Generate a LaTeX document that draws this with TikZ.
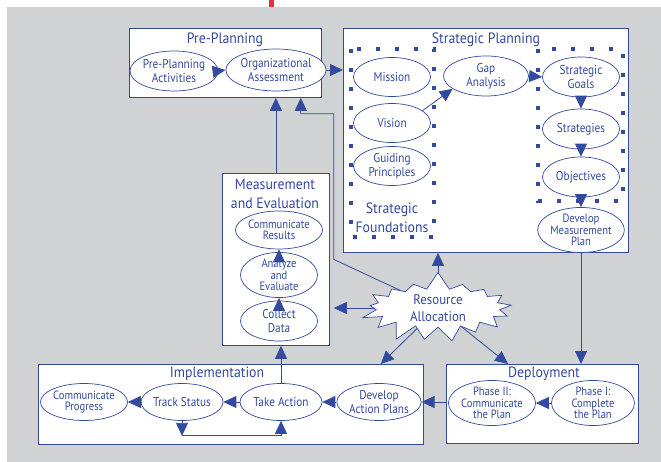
\documentclass[tikz,border=0pt]{standalone}
\usepackage{fontspec}
\setmainfont{PT Sans}
\newfontfamily\labelfont{PT Sans}[FakeStretch=0.88]
\newfontfamily\headfont{PT Sans}[FakeStretch=0.92]
\usetikzlibrary{arrows.meta, positioning, calc, shapes.geometric, shapes.symbols}
\definecolor{azulplan}{RGB}{52,74,158}
\definecolor{grisfondo}{RGB}{209,210,212}
\definecolor{rojito}{RGB}{232,52,48}
\pgfdeclarelayer{bg}
\pgfdeclarelayer{back}
\pgfsetlayers{bg,back,main}
\tikzset{>={Triangle[length=13pt,width=12pt]}}
\tikzset{
	stage/.style={draw=azulplan, fill=white, line width=0.8pt, inner sep=0pt, anchor=north west},
	task/.style={ellipse, draw=azulplan, fill=white, line width=0.7pt, inner sep=0pt, align=center, text=azulplan, font=\labelfont\fontsize{12.8}{14}\selectfont, minimum width=77pt, minimum height=39pt},
	tight/.style={font=\labelfont\fontsize{12}{11.6}\selectfont},
	title/.style={text=azulplan, align=center, font=\headfont\fontsize{15}{19}\selectfont},
	flow/.style={->, draw=azulplan, line width=0.8pt},
	dotbox/.style={draw=azulplan, line width=4pt, dash pattern=on 4pt off 15pt},
	burst/.style={starburst, starburst points=17, starburst point height=18pt, random starburst=7, draw=azulplan, fill=white, line width=0.7pt, inner sep=0pt, minimum width=160pt, minimum height=70pt, align=center, text=azulplan, font=\headfont\fontsize{14}{17}\selectfont}
}

\begin{document}
\begin{tikzpicture}[x=1pt, y=-1pt]

	\useasboundingbox (0,0) rectangle (661,462);
	\begin{pgfonlayer}{bg}
		\fill [white] (0,0) rectangle (661,462);
		\fill [grisfondo] (7,7) rectangle (661,462);
		\fill [rojito] (269,0) rectangle (274,7);
	\end{pgfonlayer}

	% boxes
	\node [stage, minimum width=192pt, minimum height=69pt] (preplan) at (129,28) {};
	\node [stage, minimum width=285pt, minimum height=224pt] (strat) at (343,28) {};
	\node [stage, minimum width=107pt, minimum height=172pt] (measure) at (222,173) {};
	\node [stage, minimum width=385pt, minimum height=80pt] (impl) at (38,364) {};
	\node [stage, minimum width=192pt, minimum height=79pt] (deploy) at (446,364) {};

	\draw [dotbox] (351,49) rectangle (434,237);
	\draw [dotbox] (538,49) rectangle (623,201);

	% titles
	\node [title] (preplantitle) at (225,40) {Pre-Planning};
	\node [title] (strattitle) at (486,40) {Strategic Planning};
	\node [title] (foundtitle) at (392,218) {Strategic\\Foundations};
	\node [title] (measuretitle) at (275,194) {Measurement\\and Evaluation};
	\node [title] (impltitle) at (217,374) {Implementation};
	\node [title] (deploytitle) at (544,374) {Deployment};

	% pre-planning
	\node [task, minimum width=84pt, minimum height=40pt] (ppact) at (174,71) {Pre-Planning\\Activities};
	\node [task, minimum width=89pt, minimum height=42pt] (orgass) at (276,70) {Organizational\\Assessment};

	% strategic planning
	\node [task] (mission) at (392,77) {Mission};
	\node [task] (vision) at (392,123) {Vision};
	\node [task] (guiding) at (392,166) {Guiding\\Principles};
	\node [task, minimum width=85pt, minimum height=40pt] (gap) at (486,76) {Gap\\Analysis};
	\node [task, minimum height=40pt] (goals) at (581,77) {Strategic\\Goals};
	\node [task, minimum height=40pt] (strategies) at (581,129) {Strategies};
	\node [task, minimum height=40pt] (objectives) at (581,177) {Objectives};
	\node [task, tight, minimum width=84pt, minimum height=37pt] (devmeas) at (581,230) {Develop\\Measurement\\Plan};

	% measurement and evaluation
	\node [task, tight, minimum height=38pt] (commres) at (279,230) {Communicate\\Results};
	\node [task, tight, minimum height=40pt] (analyze) at (279,275) {Analyze\\and\\Evaluate};
	\node [task, minimum height=40pt] (collect) at (279,321) {Collect\\Data};

	% implementation
	\node [task, tight, minimum width=84pt, minimum height=37pt] (commprog) at (84,402) {Communicate\\Progress};
	\node [task, minimum width=82pt, minimum height=37pt] (track) at (182,402) {Track Status};
	\node [task, minimum width=82pt, minimum height=37pt] (takeact) at (281,402) {Take Action};
	\node [task, minimum width=82pt, minimum height=37pt] (devact) at (379,402) {Develop\\Action Plans};

	% deployment
	\node [task, tight, minimum width=83pt, minimum height=37pt] (phasetwo) at (492,403) {Phase II:\\Communicate\\the Plan};
	\node [task, tight, minimum width=83pt, minimum height=37pt] (phaseone) at (593,403) {Phase I:\\Complete\\the Plan};

	\node [burst] (resource) at (438,308) {Resource\\Allocation};

	% flows
	\draw [flow] (ppact.east) -- (orgass.west);
	\draw [flow] (orgass.east) -- (orgass.east -| strat.west);
	\draw [flow] (vision.22) -- (gap.201);
	\draw [flow] (gap.east) -- (goals.west);
	\draw [flow] (goals.south) -- (strategies.north);
	\draw [flow] (strategies.south) -- (objectives.north);
	\draw [flow] (objectives.south) -- (devmeas.north);
	\draw [flow] (strat.south -| devmeas.south) -- (deploy.north -| devmeas.south);
	\draw [flow] (phaseone.west) -- (phasetwo.east);
	\draw [flow] (devact -| deploy.west) -- (devact.east);
	\draw [flow] (devact.west) -- (takeact.east);
	\draw [flow] (takeact.west) -- (track.east);
	\draw [flow] (track.west) -- (commprog.east);
	\draw [flow] (track.south) -- ++(0,15) coordinate (trackloop);
	\draw [flow] (trackloop) -| (takeact.south);
	\draw [flow] (takeact.north) -- (takeact.north |- measure.south);
	\draw [flow] (collect.north) -- (analyze.south);
	\draw [flow] (analyze.north) -- (commres.south);
	\draw [flow] (measure.north) -- (measure.north |- preplan.south);

	% resource allocation
	\begin{pgfonlayer}{back}
		\coordinate (loopcorner) at ($(measure.east)+(4,0)$);
		\draw [flow] (resource.center) -- (resource.center |- strat.south);
		\draw [flow] (resource.center) -- ($(resource.center -| measure.east)+(4,0)$);
		\draw [flow] (resource.center) -- ($(impl.north east)+(-43,0)$);
		\draw [flow] (resource.center) -- ($(deploy.north west)+(62,0)$);
		\draw [flow] (resource.center) -- (loopcorner) |- ($(preplan.south east)+(-21,16)$) -- ($(preplan.south east)+(-21,0)$);
	\end{pgfonlayer}

\end{tikzpicture}
\end{document}
